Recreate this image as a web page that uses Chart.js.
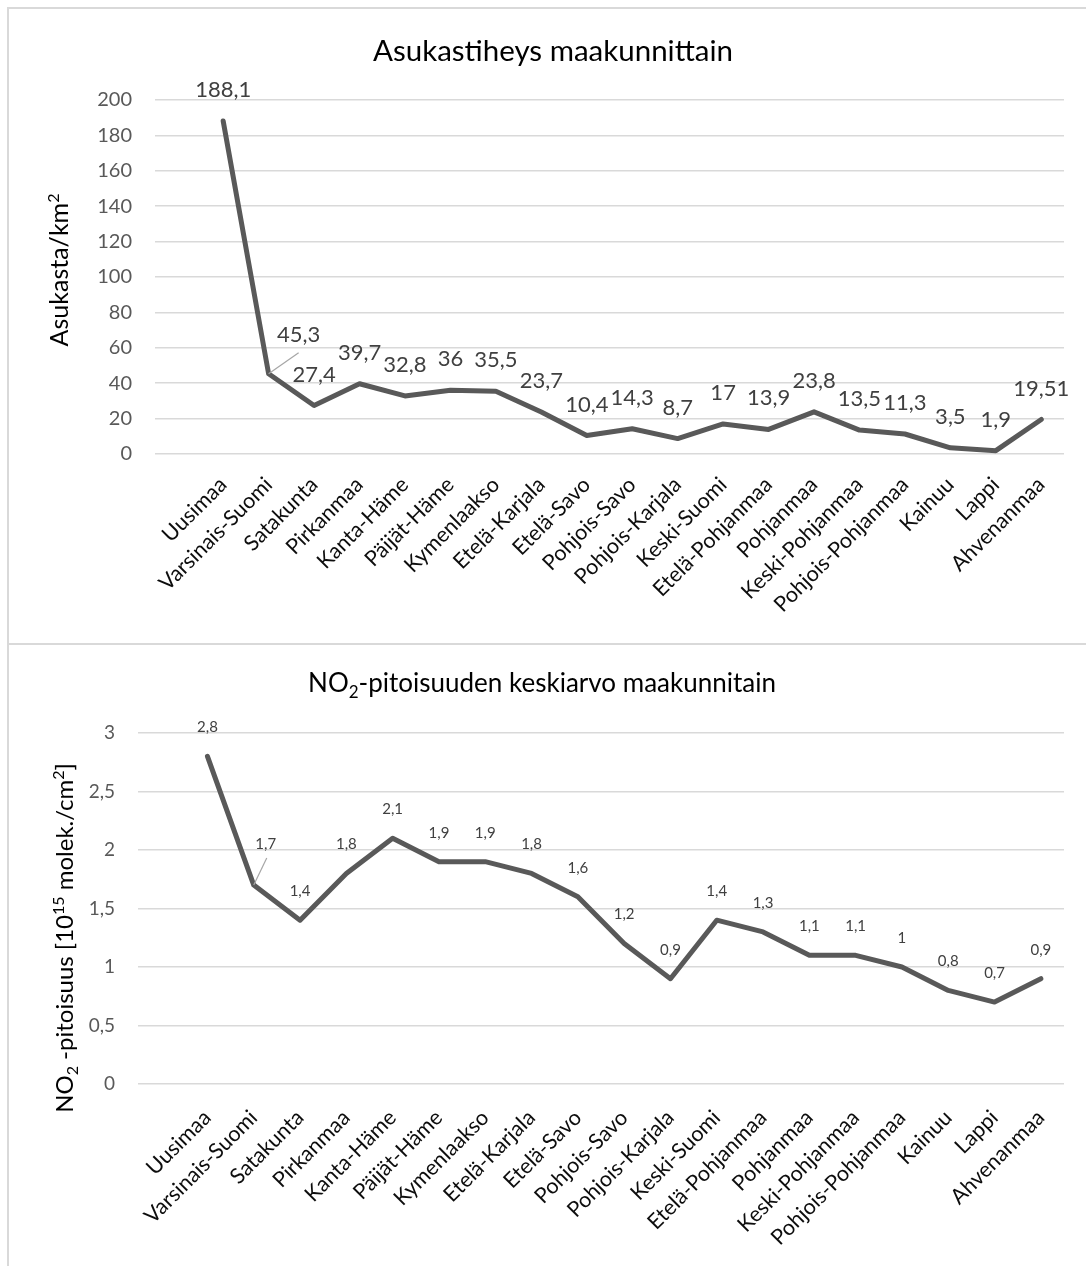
<!DOCTYPE html>
<html lang="fi">
<head>
<meta charset="utf-8">
<title>Asukastiheys ja NO2 maakunnittain</title>
<script src="https://cdn.jsdelivr.net/npm/chart.js@4.4.1/dist/chart.umd.min.js"></script>
<style>
  html, body { margin: 0; padding: 0; background: #fff; }
  body { width: 1086px; height: 1266px; position: relative; overflow: hidden; }
  .box { position: absolute; border: 2px solid #d9d9d9; box-sizing: border-box; background: #fff; }
  #box1 { left: 7px; top: 7px; width: 1100px; height: 639px; }
  #box2 { left: 7px; top: 643px; width: 1100px; height: 640px; }
  canvas { position: absolute; left: 0; }
  #c1 { top: 0; }
  #c2 { top: 644px; }
</style>
</head>
<body>
<div class="box" id="box1"></div>
<div class="box" id="box2"></div>
<canvas id="c1" width="1086" height="644"></canvas>
<canvas id="c2" width="1086" height="622"></canvas>
<script>
// Maakunnat
const regions = ['Uusimaa', 'Varsinais-Suomi', 'Satakunta', 'Pirkanmaa', 'Kanta-Häme',
  'Päijät-Häme', 'Kymenlaakso', 'Etelä-Karjala', 'Etelä-Savo', 'Pohjois-Savo',
  'Pohjois-Karjala', 'Keski-Suomi', 'Etelä-Pohjanmaa', 'Pohjanmaa', 'Keski-Pohjanmaa',
  'Pohjois-Pohjanmaa', 'Kainuu', 'Lappi', 'Ahvenanmaa'];

// Asukastiheys (asukasta/km²)
const density = [188.1, 45.3, 27.4, 39.7, 32.8, 36, 35.5, 23.7, 10.4, 14.3,
  8.7, 17, 13.9, 23.8, 13.5, 11.3, 3.5, 1.9, 19.51];

// NO2-pitoisuuden keskiarvo (10^15 molek./cm²)
const no2 = [2.8, 1.7, 1.4, 1.8, 2.1, 1.9, 1.9, 1.8, 1.6, 1.2,
  0.9, 1.4, 1.3, 1.1, 1.1, 1, 0.8, 0.7, 0.9];

// Y-akselien jaotukset
const densityTicks = [0, 20, 40, 60, 80, 100, 120, 140, 160, 180, 200];
const no2Ticks = [0, 0.5, 1, 1.5, 2, 2.5, 3];

const FONT = 'Lato, "Open Sans", sans-serif';
const fmt = v => String(v).replace('.', ',');

// Teksti, jossa voi olla ylä- ja alaindeksejä
function drawRich(ctx, segs, x, y, size, color) {
  const fontFor = s => `${(s.sub || s.sup) ? Math.round(size * 0.65) : size}px ${FONT}`;
  let total = 0;
  segs.forEach(s => { ctx.font = fontFor(s); total += ctx.measureText(s.t).width; });
  let cx = x - total / 2;
  ctx.fillStyle = color;
  ctx.textAlign = 'left';
  ctx.textBaseline = 'alphabetic';
  segs.forEach(s => {
    ctx.font = fontFor(s);
    const dy = s.sub ? size * 0.22 : (s.sup ? -size * 0.36 : 0);
    ctx.fillText(s.t, cx, y + dy);
    cx += ctx.measureText(s.t).width;
  });
}

// Otsikot, akselin nimi ja arvotarrat
const decor = {
  id: 'decor',
  afterDatasetsDraw(chart, args, o) {
    const ctx = chart.ctx;
    const meta = chart.getDatasetMeta(0);
    const values = o.values;
    ctx.save();
    ctx.font = `${o.labelSize}px ${FONT}`;
    ctx.textAlign = 'center';
    ctx.textBaseline = 'middle';
    meta.data.forEach((pt, i) => {
      let lx = pt.x, ly = pt.y - o.labelGap;
      if (o.leader && o.leader.index === i) {
        lx = pt.x + o.leader.dx;
        ly = pt.y + o.leader.dy;
        ctx.strokeStyle = '#a6a6a6';
        ctx.lineWidth = 1.2;
        ctx.beginPath();
        ctx.moveTo(pt.x, pt.y);
        ctx.lineTo(pt.x + o.leader.ex, pt.y + o.leader.ey);
        ctx.stroke();
      }
      ctx.fillStyle = '#404040';
      ctx.fillText(fmt(values[i]), lx, ly);
    });
    ctx.restore();

    ctx.save();
    drawRich(ctx, o.title.segs, o.title.x, o.title.y, o.title.size, '#000');
    ctx.restore();

    ctx.save();
    ctx.translate(o.yTitle.x, o.yTitle.y);
    ctx.rotate(-Math.PI / 2);
    drawRich(ctx, o.yTitle.segs, 0, 0, o.yTitle.size, '#000');
    ctx.restore();
  }
};

function makeChart(id, cfg) {
  return new Chart(document.getElementById(id), {
    type: 'line',
    data: {
      datasets: [{
        data: cfg.values.map((v, i) => ({ x: i, y: v })),
        borderColor: '#595959',
        borderWidth: 5,
        borderJoinStyle: 'round',
        borderCapStyle: 'round',
        pointRadius: 0,
        tension: 0,
        fill: false
      }]
    },
    options: {
      responsive: false,
      animation: false,
      devicePixelRatio: 1,
      layout: { padding: { left: 0, right: cfg.padRight, top: cfg.padTop, bottom: 0 } },
      scales: {
        x: {
          type: 'linear',
          min: -1.5,
          max: regions.length - 0.5,
          afterBuildTicks: s => { s.ticks = regions.map((_, i) => ({ value: i })); },
          afterFit: s => { s.height = cfg.xHeight; },
          ticks: {
            autoSkip: false,
            minRotation: 45,
            maxRotation: 45,
            padding: cfg.xPad,
            color: '#0d0d0d',
            font: { family: FONT, size: cfg.xSize },
            callback: v => regions[v]
          },
          grid: { display: false, drawTicks: false },
          border: { display: false }
        },
        y: {
          min: cfg.ticks[0],
          max: cfg.ticks[cfg.ticks.length - 1],
          afterBuildTicks: s => { s.ticks = cfg.ticks.map(v => ({ value: v })); },
          afterFit: s => { s.width = cfg.yWidth; },
          ticks: {
            padding: cfg.yPad,
            color: '#595959',
            font: { family: FONT, size: cfg.ySize },
            callback: v => fmt(v)
          },
          grid: { color: '#d9d9d9', lineWidth: 1.5, drawTicks: false },
          border: { display: false }
        }
      },
      plugins: {
        legend: { display: false },
        tooltip: { enabled: false },
        decor: {
          values: cfg.values,
          labelSize: cfg.labelSize,
          labelGap: cfg.labelGap,
          leader: cfg.leader,
          title: cfg.title,
          yTitle: cfg.yTitle
        }
      }
    },
    plugins: [decor]
  });
}

function drawAll() {
  makeChart('c1', {
    values: density,
    ticks: densityTicks,
    padTop: 100, padRight: 22,
    yWidth: 155, xHeight: 190,
    yPad: 23, xPad: 18,
    ySize: 20, xSize: 21.5,
    labelSize: 22, labelGap: 31,
    leader: { index: 1, dx: 30, dy: -39, ex: 30, ey: -21 },
    title: { segs: [{ t: 'Asukastiheys maakunnittain' }], x: 553, y: 61, size: 29.5 },
    yTitle: { segs: [{ t: 'Asukasta/km' }, { t: '2', sup: true }], x: 68, y: 270, size: 25 }
  });
  makeChart('c2', {
    values: no2,
    ticks: no2Ticks,
    padTop: 89, padRight: 22,
    yWidth: 138, xHeight: 182,
    yPad: 23, xPad: 21,
    ySize: 19, xSize: 21.5,
    labelSize: 15, labelGap: 29,
    leader: { index: 1, dx: 12, dy: -41, ex: 13, ey: -27 },
    title: { segs: [{ t: 'NO' }, { t: '2', sub: true }, { t: '-pitoisuuden keskiarvo maakunnitain' }], x: 542, y: 48, size: 26 },
    yTitle: { segs: [{ t: 'NO' }, { t: '2', sub: true }, { t: ' -pitoisuus [10' }, { t: '15', sup: true }, { t: ' molek./cm' }, { t: '2', sup: true }, { t: ']' }], x: 73, y: 294, size: 24 }
  });
}

if (document.fonts && document.fonts.load) {
  Promise.all([document.fonts.load('20px Lato')]).then(drawAll, drawAll);
} else {
  drawAll();
}
</script>
</body>
</html>
